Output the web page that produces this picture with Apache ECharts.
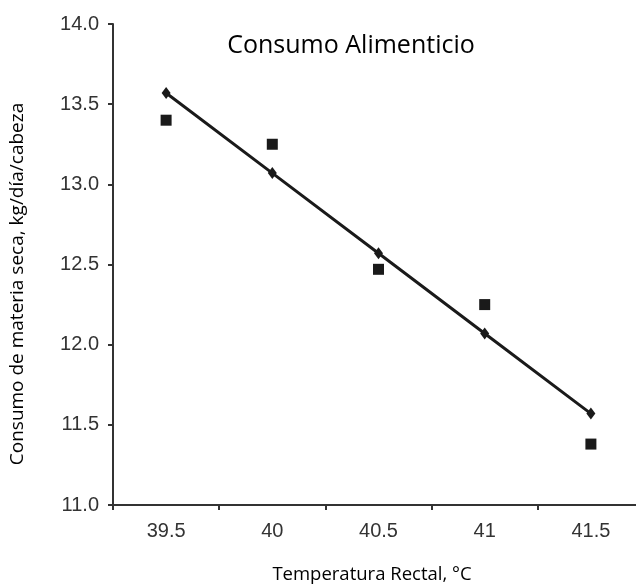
<!DOCTYPE html>
<html><head><meta charset="utf-8">
<script src="https://cdn.jsdelivr.net/npm/echarts@6/dist/echarts.min.js"></script>
<style>html,body{margin:0;padding:0;background:#fff;overflow:hidden}#c{width:652px;height:585px}</style>
</head><body><div id="c"></div>
<script>
const categories = ['39.5', '40', '40.5', '41', '41.5'];
const observed = [13.40, 13.25, 12.47, 12.25, 11.38];
const fitted = [13.57, 13.07, 12.57, 12.07, 11.57];
const yTicks = { min: 11.0, max: 14.0, interval: 0.5 };

const chart = echarts.init(document.getElementById('c'));
chart.setOption({
  animation: false,
  backgroundColor: '#fff',
  grid: { left: 113, top: 24, width: 531, bottom: 80 },
  graphic: [
    { type: 'text', style: { text: 'Consumo Alimenticio', x: 351, y: 46, align: 'center', verticalAlign: 'middle', font: '25px "Open Sans"', fill: '#000' } },
    { type: 'text', style: { text: 'Temperatura Rectal, °C', x: 372, y: 575, align: 'center', verticalAlign: 'middle', font: '18.5px "Open Sans"', fill: '#000' } },
    { type: 'text', x: 18, y: 284, rotation: Math.PI / 2, style: { text: 'Consumo de materia seca, kg/día/cabeza', x: 0, y: 0, align: 'center', verticalAlign: 'middle', font: '19px "Open Sans"', fill: '#000' } }
  ],
  xAxis: {
    type: 'category', data: categories, boundaryGap: true,
    axisLine: { lineStyle: { color: '#333', width: 2 } },
    axisTick: { show: true, length: 5, lineStyle: { color: '#333', width: 2 } },
    axisLabel: { color: '#333', fontSize: 20, fontFamily: 'Liberation Sans', margin: 16 },
    splitLine: { show: false }
  },
  yAxis: {
    type: 'value', min: yTicks.min, max: yTicks.max, interval: yTicks.interval,
    axisLine: { show: true, lineStyle: { color: '#333', width: 2 } },
    axisTick: { show: true, length: 5, lineStyle: { color: '#333', width: 2 } },
    axisLabel: { color: '#333', fontSize: 20, fontFamily: 'Liberation Sans', margin: 14, formatter: v => v.toFixed(1) },
    splitLine: { show: false }
  },
  series: [
    { type: 'line', data: fitted, symbol: 'diamond', symbolSize: [9, 12], showAllSymbol: true,
      lineStyle: { color: '#1a1a1a', width: 3 }, itemStyle: { color: '#1a1a1a', opacity: 1 }, z: 2 },
    { type: 'scatter', data: observed, symbol: 'rect', symbolSize: 11,
      itemStyle: { color: '#1a1a1a', opacity: 1 }, z: 3 }
  ]
});
</script></body></html>
